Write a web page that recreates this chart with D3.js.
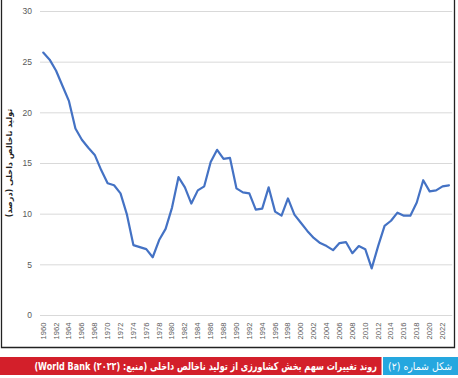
<!DOCTYPE html>
<html lang="fa">
<head>
    <meta charset="UTF-8">
    <title>Agriculture share of GDP</title>
    <script src="https://d3js.org/d3.v7.min.js"></script>
</head>
<body>
    <div id="container"></div>
</body>

<style>
body {
    margin: 0;
    background: #ffffff;
}
svg text {
    user-select: none;
}
</style>

<script>
    // سال‌ها و سهم کشاورزی از تولید ناخالص داخلی (درصد)
    const years = d3.range(1960, 2024)
    const shareValues = [
        25.9, 25.2, 24.1, 22.6, 21.1, 18.4, 17.3, 16.5, 15.8, 14.3,
        13.0, 12.8, 12.0, 9.9, 6.9, 6.7, 6.5, 5.7, 7.4, 8.5,
        10.6, 13.6, 12.6, 11.0, 12.3, 12.7, 15.1, 16.3, 15.4, 15.5,
        12.5, 12.1, 12.0, 10.4, 10.5, 12.6, 10.2, 9.8, 11.5, 9.9,
        9.1, 8.3, 7.6, 7.1, 6.8, 6.4, 7.1, 7.2, 6.1, 6.8,
        6.5, 4.6, 6.8, 8.8, 9.3, 10.1, 9.8, 9.8, 11.1, 13.3,
        12.2, 12.3, 12.7, 12.8
    ]
    const yTicks = [0, 5, 10, 15, 20, 25, 30]
    const xTickYears = years.filter(y => y % 2 === 0 && y <= 2022)

    const yTitle = 'تولید ناخالص داخلی (درصد)'
    const captionLabel = 'شکل شماره (۲)'
    const captionText = 'روند تغییرات سهم بخش کشاورزی از تولید ناخالص داخلی (منبع: World Bank (۲۰۲۲))'

    const width = 458
    const height = 378
    const plot = {left: 40, right: 452.2, top: 11, bottom: 315}

    const svg = d3.select('#container')
        .append('svg')
        .attr('width', width)
        .attr('height', height)
        .style('display', 'block')

    const data = years.map((y, i) => ({year: y, value: shareValues[i]}))

    const x = d3.scaleBand()
        .domain(years)
        .range([plot.left, plot.right])
    const y = d3.scaleLinear()
        .domain([0, 30])
        .range([plot.bottom, plot.top])

    // قاب دور نمودار
    svg.append('path')
        .attr('d', 'M1.5,0 V347.5 H454.5 V0')
        .attr('fill', 'none')
        .attr('stroke', '#222')
        .attr('stroke-width', 1.3)

    // خطوط شبکه
    const yAxis = d3.axisLeft(y)
        .tickValues(yTicks)
        .tickSize(-(plot.right - plot.left))
        .tickPadding(8)
    const gy = svg.append('g')
        .attr('transform', 'translate(' + plot.left + ',0)')
        .call(yAxis)
    gy.select('.domain').remove()
    gy.selectAll('.tick line')
        .attr('stroke', '#d9d9d9')
        .attr('stroke-width', 1)
    gy.selectAll('.tick text')
        .attr('fill', '#595959')
        .attr('font-family', 'Liberation Sans, Arial, sans-serif')
        .attr('font-size', 8.5)
        .attr('x', -8)

    // برچسب‌های محور افقی
    const xAxis = d3.axisBottom(x)
        .tickValues(xTickYears)
        .tickSize(0)
        .tickPadding(0)
    const gx = svg.append('g')
        .attr('transform', 'translate(0,' + plot.bottom + ')')
        .call(xAxis)
    gx.select('.domain').remove()
    gx.selectAll('.tick text')
        .attr('fill', '#595959')
        .attr('font-family', 'Liberation Sans, Arial, sans-serif')
        .attr('font-size', 7.6)
        .attr('dy', '0.32em')
        .attr('y', 0)
        .attr('transform', 'translate(0,24.5) rotate(-90)')
        .attr('text-anchor', 'start')

    // خط داده
    const line = d3.line()
        .x(d => x(d.year) + x.bandwidth() / 2)
        .y(d => y(d.value))

    svg.append('path')
        .datum(data)
        .attr('d', line)
        .attr('fill', 'none')
        .attr('stroke', '#4472c4')
        .attr('stroke-width', 2.2)
        .attr('stroke-linejoin', 'round')
        .attr('stroke-linecap', 'round')

    // عنوان محور عمودی
    svg.append('text')
        .attr('transform', 'translate(9,163) rotate(-90)')
        .attr('text-anchor', 'middle')
        .attr('dy', '0.35em')
        .attr('font-family', 'DejaVu Sans, sans-serif')
        .attr('font-weight', 'bold')
        .attr('font-size', 8)
        .attr('fill', '#222')
        .text(yTitle)

    // نوار زیرنویس
    svg.append('rect')
        .attr('x', 0).attr('y', 357)
        .attr('width', 381.5).attr('height', 18)
        .attr('fill', '#d31f2a')
    svg.append('rect')
        .attr('x', 383).attr('y', 357)
        .attr('width', 75).attr('height', 18)
        .attr('fill', '#25a7df')

    addCaption(captionLabel, 452, 64, 'normal', 10.5)
    addCaption(captionText, 377, 343, 'bold', 11)

    // متن راست‌چین که با فشرده‌سازی افقی در عرض مشخص جا می‌شود
    function addCaption(str, right, target, weight, fs) {
        const g = svg.append('g')
            .attr('transform', 'translate(' + right + ',366)')
        const t = g.append('text')
            .attr('direction', 'rtl')
            .attr('text-anchor', 'start')
            .attr('dy', '0.35em')
            .attr('font-family', 'DejaVu Sans, sans-serif')
            .attr('font-weight', weight)
            .attr('font-size', fs)
            .attr('fill', '#fff')
            .text(str)
        const w = t.node().getComputedTextLength()
        g.attr('transform', 'translate(' + right + ',366) scale(' + (target / w) + ',1)')
    }
</script>
</html>
